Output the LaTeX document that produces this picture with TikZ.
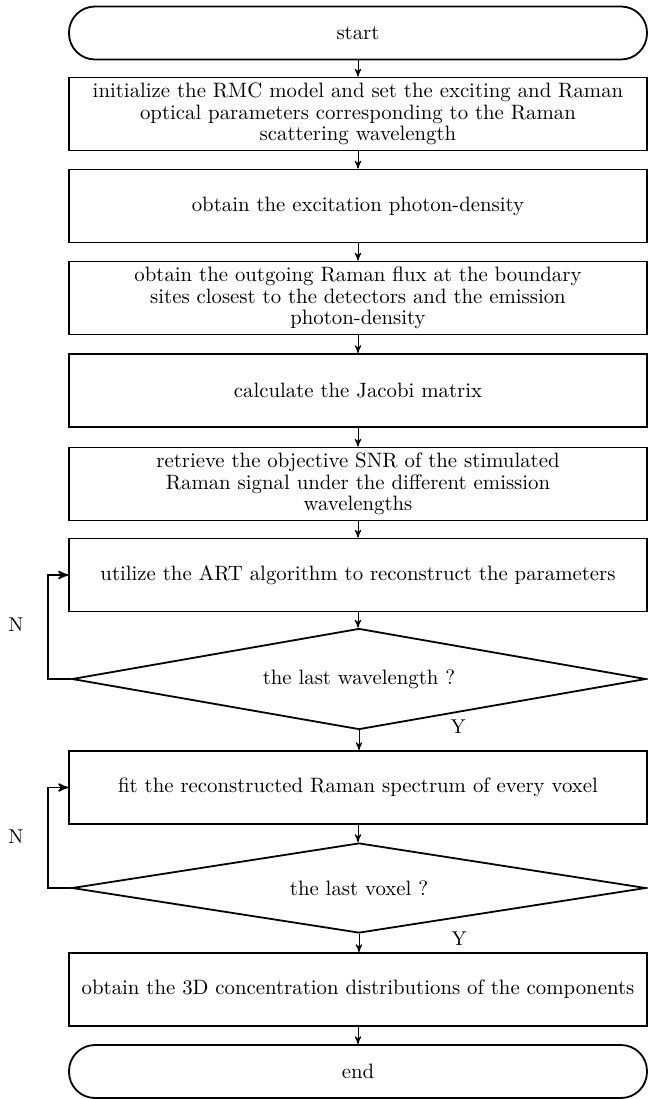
\documentclass[tikz,border=0pt]{standalone}
\usetikzlibrary{arrows}
\usetikzlibrary{shapes.geometric}
\begin{document}
\begin{tikzpicture} [x=0.5pt, y=-0.5pt,
 box/.style={draw, line width=0.9pt, minimum width=289pt, minimum height=36.5pt, inner sep=0pt, align=center, font=\fontsize{10.4}{10.8}\selectfont},
 term/.style={box, rounded corners=13pt, minimum height=26.5pt},
 test/.style={draw, line width=0.9pt, diamond, aspect=6, minimum width=287pt, inner sep=0pt, font=\fontsize{10.4}{10.8}\selectfont},
 flow/.style={->, >=stealth', line width=0.5pt}]
\useasboundingbox (0,0) rectangle (648,1099);
\node[term] (start) at (358,33) {start};
\node[box] (init) at (358,114) {initialize the RMC model and set the exciting and Raman\\ optical parameters corresponding to the Raman\\ scattering wavelength};
\node[box] (exc) at (358,206) {obtain the excitation photon-density};
\node[box] (flux) at (358,298) {obtain the outgoing Raman flux at the boundary\\ sites closest to the detectors and the emission\\ photon-density};
\node[box] (jac) at (358,390.5) {calculate the Jacobi matrix};
\node[box] (snr) at (358,484) {retrieve the objective SNR of the stimulated\\ Raman signal under the different emission\\ wavelengths};
\node[box] (art) at (358,575) {utilize the ART algorithm to reconstruct the parameters};
\node[test, minimum height=50.5pt] (lastw) at (359,679) {the last wavelength ?};
\node[box] (fit) at (358,787.5) {fit the reconstructed Raman spectrum of every voxel};
\node[test, minimum height=45pt] (lastv) at (359,888) {the last voxel ?};
\node[box] (conc) at (358,989.5) {obtain the 3D concentration distributions of the components};
\node[term] (end) at (358,1071.5) {end};
\foreach \a/\b in {start/init, init/exc, exc/flux, flux/jac, jac/snr, snr/art, art/lastw, lastw/fit, fit/lastv, lastv/conc, conc/end} {
 \draw[flow] (\a.south) -- (\a.south |- \b.north);
}
% loops back
\draw[flow, line width=0.8pt] (lastw.west) -- ++(-23,0) |- (art.west);
\draw[flow, line width=0.8pt] (lastv.west) -- ++(-23,0) |- (fit.west);
\node (nw) at (16,625) {N};
\node (nv) at (16,837) {N};
\node (yw) at (458,727) {Y};
\node (yv) at (459,939) {Y};
\end{tikzpicture}
\end{document}
